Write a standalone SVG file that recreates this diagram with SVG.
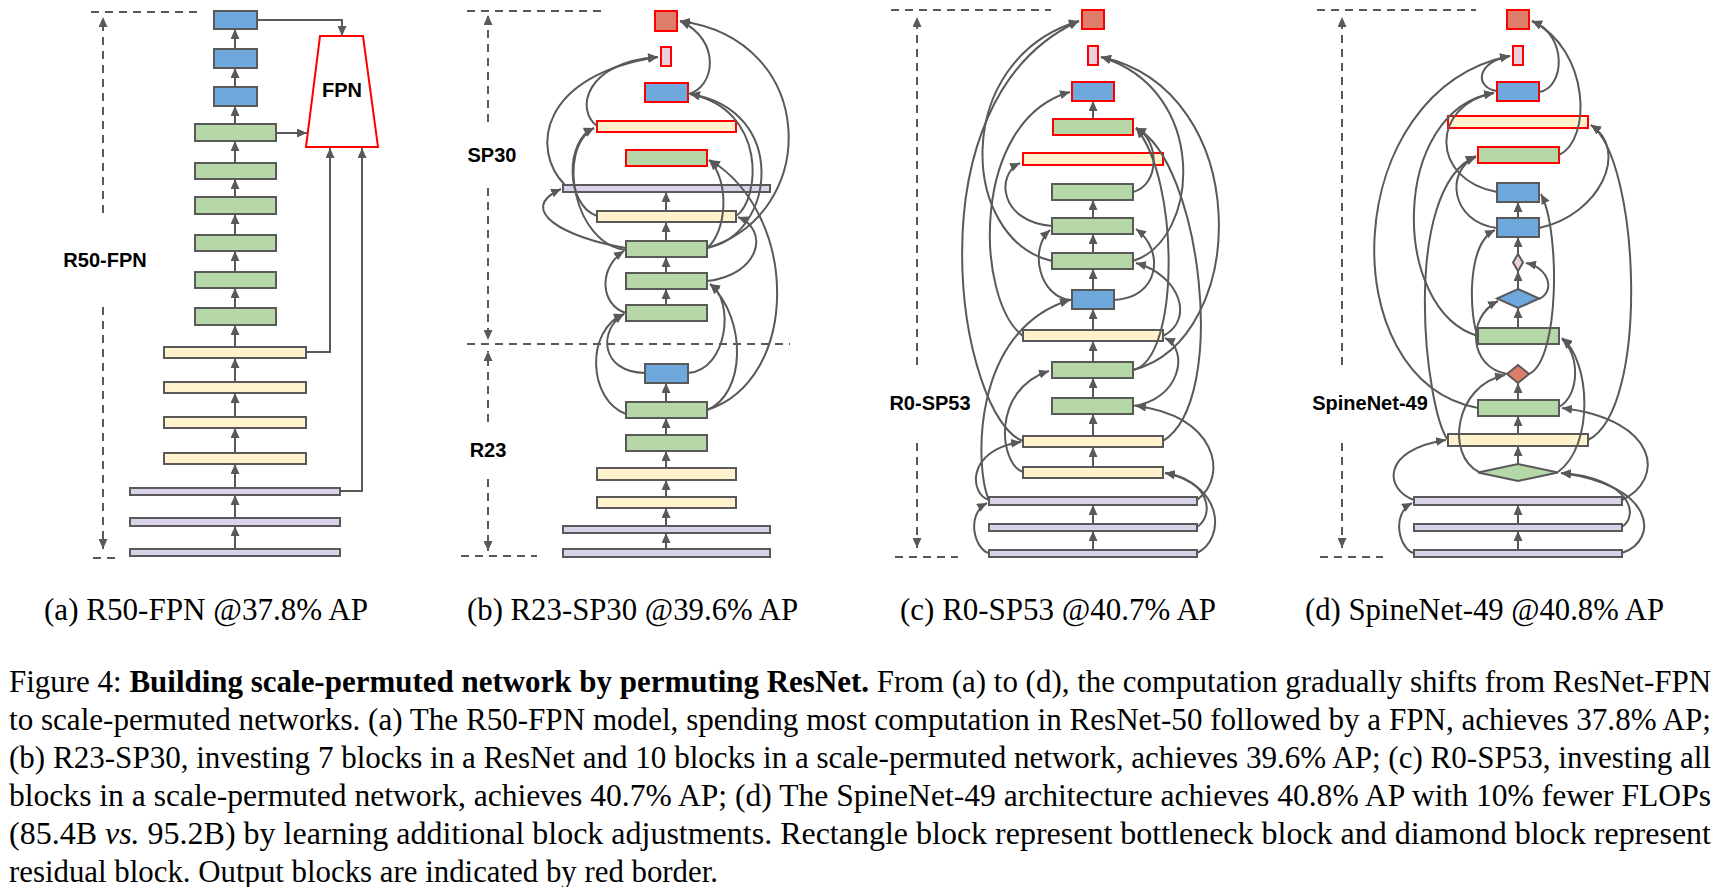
<svg xmlns="http://www.w3.org/2000/svg" width="1722" height="887" viewBox="0 0 1722 887">
<style>
.bl{fill:#6fa8dc;stroke:#595959;stroke-width:2}
.gr{fill:#b6d7a8;stroke:#595959;stroke-width:2}
.ye{fill:#fff2cc;stroke:#595959;stroke-width:2}
.pu{fill:#d9d2e9;stroke:#595959;stroke-width:2}
.pk{fill:#ead1dc;stroke:#595959;stroke-width:2}
.rd{fill:#dd7e6b;stroke:#595959;stroke-width:2}
.out{stroke:#ff0000}
.c{fill:none;stroke:#595959;stroke-width:2;marker-end:url(#ah)}
.d{fill:none;stroke:#595959;stroke-width:2;stroke-dasharray:8 6}
.da{fill:none;stroke:#595959;stroke-width:2;stroke-dasharray:8 6;marker-end:url(#ah)}
.lab{font-family:"Liberation Sans",Arial,sans-serif;font-weight:bold;font-size:20px;fill:#000}
.cap{font-family:"Liberation Serif","Times New Roman",Times,serif;font-size:31px;fill:#000}
.sub{font-family:"Liberation Serif","Times New Roman",Times,serif;font-size:31px;fill:#000}
</style>
<defs>
<marker id="ah" markerUnits="userSpaceOnUse" markerWidth="10" markerHeight="9" refX="10" refY="4.5" orient="auto"><path d="M0,0 L10,4.5 L0,9 z" fill="#595959"/></marker>
</defs>
<rect width="1722" height="887" fill="#fff"/>

<!-- Panel (a) -->
<g id="a-dash">
<path class="d" d="M91,12 H202"/>
<path class="da" d="M103,213 V17"/>
<path class="da" d="M103,307 V549"/>
<path class="d" d="M93,558 H115"/>
<text class="lab" x="105" y="267" text-anchor="middle">R50-FPN</text>
</g>
<g id="a1"><rect class="bl" x="214" y="11" width="43" height="18"/></g>
<g id="a2"><rect class="bl" x="214" y="49" width="43" height="19"/></g>
<g id="a3"><rect class="bl" x="214" y="87" width="43" height="19"/></g>
<g id="a4"><rect class="gr" x="195" y="124" width="81" height="17"/></g>
<g id="a5"><rect class="gr" x="195" y="163" width="81" height="16"/></g>
<g id="a6"><rect class="gr" x="195" y="197" width="81" height="17"/></g>
<g id="a7"><rect class="gr" x="195" y="235" width="81" height="16"/></g>
<g id="a8"><rect class="gr" x="195" y="272" width="81" height="16"/></g>
<g id="a9"><rect class="gr" x="195" y="308" width="81" height="17"/></g>
<g id="a10"><rect class="ye" x="164" y="347" width="142" height="11"/></g>
<g id="a11"><rect class="ye" x="164" y="382" width="142" height="11"/></g>
<g id="a12"><rect class="ye" x="164" y="417" width="142" height="11"/></g>
<g id="a13"><rect class="ye" x="164" y="453" width="142" height="11"/></g>
<g id="a14"><rect class="pu" x="130" y="488" width="210" height="7"/></g>
<g id="a15"><rect class="pu" x="130" y="518" width="210" height="8"/></g>
<g id="a16"><rect class="pu" x="130" y="549" width="210" height="7"/></g>
<g id="a-fpn"><polygon points="320,36 363,36 378,147 306,147" fill="#fff" stroke="#ff0000" stroke-width="2"/>
<text class="lab" x="342" y="97" text-anchor="middle">FPN</text></g>

<!-- Panel (b) -->
<g id="b-dash">
<path class="d" d="M467,11 H605"/>
<path class="da" d="M488,122 V15"/>
<path class="da" d="M488,188 V340"/>
<path class="d" d="M467,344 H790"/>
<path class="da" d="M488,422 V351"/>
<path class="da" d="M488,479 V551"/>
<path class="d" d="M461,556 H537"/>
<text class="lab" x="492" y="162" text-anchor="middle">SP30</text>
<text class="lab" x="488" y="457" text-anchor="middle">R23</text>
</g>
<g id="b1"><rect class="rd out" x="655" y="11" width="22" height="20"/></g>
<g id="b2"><rect class="pk out" x="661" y="47" width="10" height="19"/></g>
<g id="b3"><rect class="bl out" x="645" y="83" width="43" height="19"/></g>
<g id="b4"><rect class="ye out" x="597" y="121" width="139" height="11"/></g>
<g id="b5"><rect class="gr out" x="626" y="150" width="81" height="16"/></g>
<g id="b6"><rect class="pu" x="563" y="185" width="207" height="7"/></g>
<g id="b7"><rect class="ye" x="597" y="211" width="139" height="11"/></g>
<g id="b8"><rect class="gr" x="626" y="241" width="81" height="16"/></g>
<g id="b9"><rect class="gr" x="626" y="273" width="81" height="16"/></g>
<g id="b10"><rect class="gr" x="626" y="305" width="81" height="16"/></g>
<g id="b11"><rect class="bl" x="645" y="364" width="43" height="19"/></g>
<g id="b12"><rect class="gr" x="626" y="402" width="81" height="16"/></g>
<g id="b13"><rect class="gr" x="626" y="435" width="81" height="16"/></g>
<g id="b14"><rect class="ye" x="597" y="468" width="139" height="12"/></g>
<g id="b15"><rect class="ye" x="597" y="497" width="139" height="11"/></g>
<g id="b16"><rect class="pu" x="563" y="526" width="207" height="7"/></g>
<g id="b17"><rect class="pu" x="563" y="549" width="207" height="8"/></g>

<!-- Panel (c) -->
<g id="c-dash">
<path class="d" d="M891,10 H1051"/>
<path class="da" d="M917,365 V17"/>
<path class="da" d="M917,443 V548"/>
<path class="d" d="M895,557 H958"/>
<text class="lab" x="930" y="410" text-anchor="middle">R0-SP53</text>
</g>
<g id="c1"><rect class="rd out" x="1082" y="10" width="22" height="19"/></g>
<g id="c2"><rect class="pk out" x="1088" y="46" width="10" height="19"/></g>
<g id="c3"><rect class="bl out" x="1072" y="82" width="42" height="19"/></g>
<g id="c4"><rect class="gr out" x="1053" y="119" width="80" height="16"/></g>
<g id="c5"><rect class="ye out" x="1023" y="153" width="140" height="12"/></g>
<g id="c6"><rect class="gr" x="1052" y="184" width="81" height="16"/></g>
<g id="c7"><rect class="gr" x="1052" y="218" width="81" height="16"/></g>
<g id="c8"><rect class="gr" x="1052" y="253" width="81" height="16"/></g>
<g id="c9"><rect class="bl" x="1072" y="290" width="42" height="19"/></g>
<g id="c10"><rect class="ye" x="1023" y="330" width="140" height="11"/></g>
<g id="c11"><rect class="gr" x="1052" y="362" width="81" height="16"/></g>
<g id="c12"><rect class="gr" x="1052" y="398" width="81" height="16"/></g>
<g id="c13"><rect class="ye" x="1023" y="436" width="140" height="11"/></g>
<g id="c14"><rect class="ye" x="1023" y="467" width="140" height="11"/></g>
<g id="c15"><rect class="pu" x="989" y="497" width="208" height="8"/></g>
<g id="c16"><rect class="pu" x="989" y="524" width="208" height="7"/></g>
<g id="c17"><rect class="pu" x="989" y="550" width="208" height="7"/></g>

<!-- Panel (d) -->
<g id="d-dash">
<path class="d" d="M1317,10 H1476"/>
<path class="da" d="M1342,365 V17"/>
<path class="da" d="M1342,443 V548"/>
<path class="d" d="M1320,557 H1383"/>
<text class="lab" x="1370" y="410" text-anchor="middle">SpineNet-49</text>
</g>
<g id="d1"><rect class="rd out" x="1507" y="10" width="22" height="19"/></g>
<g id="d2"><rect class="pk out" x="1513" y="46" width="10" height="19"/></g>
<g id="d3"><rect class="bl out" x="1497" y="82" width="42" height="19"/></g>
<g id="d4"><rect class="ye out" x="1448" y="116" width="140" height="12"/></g>
<g id="d5"><rect class="gr out" x="1478" y="147" width="81" height="16"/></g>
<g id="d6"><rect class="bl" x="1497" y="183" width="42" height="19"/></g>
<g id="d7"><rect class="bl" x="1497" y="218" width="42" height="19"/></g>
<g id="d8"><polygon class="pk" points="1518,254 1523,262.5 1518,271 1513,262.5"/></g>
<g id="d9"><polygon class="bl" points="1518,289 1539,298.5 1518,308 1497,298.5"/></g>
<g id="d10"><rect class="gr" x="1478" y="328" width="81" height="16"/></g>
<g id="d11"><polygon class="rd" points="1518,365 1529,374 1518,383 1507,374"/></g>
<g id="d12"><rect class="gr" x="1478" y="400" width="81" height="16"/></g>
<g id="d13"><rect class="ye" x="1448" y="434" width="140" height="12"/></g>
<g id="d14"><polygon class="gr" points="1518,464 1558,472.5 1518,481 1478,472.5"/></g>
<g id="d15"><rect class="pu" x="1414" y="497" width="208" height="8"/></g>
<g id="d16"><rect class="pu" x="1414" y="524" width="208" height="7"/></g>
<g id="d17"><rect class="pu" x="1414" y="550" width="208" height="7"/></g>

<g id="connectors">
<!-- (a) -->
<path class="c" d="M235,49 V29"/>
<path class="c" d="M235,87 V68"/>
<path class="c" d="M235,124 V106"/>
<path class="c" d="M235,163 V141"/>
<path class="c" d="M235,197 V179"/>
<path class="c" d="M235,235 V214"/>
<path class="c" d="M235,272 V251"/>
<path class="c" d="M235,308 V288"/>
<path class="c" d="M235,347 V325"/>
<path class="c" d="M235,382 V358"/>
<path class="c" d="M235,417 V393"/>
<path class="c" d="M235,453 V428"/>
<path class="c" d="M235,488 V464"/>
<path class="c" d="M235,518 V495"/>
<path class="c" d="M235,549 V526"/>
<path class="c" d="M257,20 H342 V36"/>
<path class="c" d="M276,133 H307"/>
<path class="c" d="M306,352 H330 V148"/>
<path class="c" d="M340,491 H362 V148"/>
<!-- (b) straight -->
<path class="c" d="M666,211 V192"/>
<path class="c" d="M666,241 V222"/>
<path class="c" d="M666,273 V257"/>
<path class="c" d="M666,305 V289"/>
<path class="c" d="M666,402 V383"/>
<path class="c" d="M666,435 V418"/>
<path class="c" d="M666,468 V451"/>
<path class="c" d="M666,497 V480"/>
<path class="c" d="M666,526 V508"/>
<path class="c" d="M666,549 V533"/>
<!-- (b) curves -->
<path class="c" d="M688,94 C715,88 722,40 680,21"/>
<path class="c" d="M707,248 C820,215 820,40 680,21"/>
<path class="c" d="M565,185 C530,150 540,75 658,57"/>
<path class="c" d="M597,126 C575,110 585,62 658,57"/>
<path class="c" d="M626,248 C565,238 515,210 561,189"/>
<path class="c" d="M597,216 C565,205 565,140 594,128"/>
<path class="c" d="M626,250 C575,245 555,150 594,128"/>
<path class="c" d="M626,313 C600,305 598,268 624,251"/>
<path class="c" d="M626,414 C588,400 585,330 624,314"/>
<path class="c" d="M645,373 C600,372 598,330 624,314"/>
<path class="c" d="M688,373 C728,370 735,300 710,284"/>
<path class="c" d="M707,410 C745,395 748,320 710,284"/>
<path class="c" d="M707,410 C800,380 800,215 710,160"/>
<path class="c" d="M707,281 C760,275 770,230 738,217"/>
<path class="c" d="M736,216 C760,200 768,110 690,94"/>
<path class="c" d="M707,248 C775,235 790,110 690,94"/>
<path class="c" d="M707,248 C727,232 730,180 709,160"/>
<!-- (c) straight -->
<path class="c" d="M1093,119 V101"/>
<path class="c" d="M1093,218 V200"/>
<path class="c" d="M1093,253 V234"/>
<path class="c" d="M1093,290 V269"/>
<path class="c" d="M1093,330 V309"/>
<path class="c" d="M1093,362 V341"/>
<path class="c" d="M1093,398 V378"/>
<path class="c" d="M1093,436 V414"/>
<path class="c" d="M1093,467 V447"/>
<path class="c" d="M1093,524 V505"/>
<path class="c" d="M1093,550 V531"/>
<!-- (c) curves -->
<path class="c" d="M1023,441 C960,420 905,100 1079,21"/>
<path class="c" d="M1052,261 C960,240 950,60 1079,21"/>
<path class="c" d="M1023,336 C975,300 970,120 1070,92"/>
<path class="c" d="M1052,226 C1000,222 995,175 1020,163"/>
<path class="c" d="M1023,472 C1000,465 990,390 1049,371"/>
<path class="c" d="M989,500 C970,495 965,450 1021,442"/>
<path class="c" d="M989,553 C975,550 965,515 987,503"/>
<path class="c" d="M1071,300 C1040,298 1028,250 1050,230"/>
<path class="c" d="M989,500 C975,470 970,330 1070,300"/>
<path class="c" d="M1133,261 C1200,240 1210,90 1101,57"/>
<path class="c" d="M1133,370 C1250,340 1255,90 1101,57"/>
<path class="c" d="M1133,192 C1160,185 1160,140 1136,128"/>
<path class="c" d="M1163,441 C1230,400 1200,160 1136,128"/>
<path class="c" d="M1133,370 C1180,360 1180,180 1136,128"/>
<path class="c" d="M1114,300 C1160,298 1165,250 1136,229"/>
<path class="c" d="M1163,336 C1195,320 1180,275 1136,263"/>
<path class="c" d="M1133,406 C1180,400 1190,350 1165,338"/>
<path class="c" d="M1197,500 C1230,475 1215,415 1136,406"/>
<path class="c" d="M1197,527 C1215,515 1210,480 1165,473"/>
<path class="c" d="M1197,553 C1225,540 1225,485 1165,473"/>
<!-- (d) straight -->
<path class="c" d="M1518,218 V202"/>
<path class="c" d="M1518,254 V237"/>
<path class="c" d="M1518,289 V271"/>
<path class="c" d="M1518,328 V308"/>
<path class="c" d="M1518,400 V383"/>
<path class="c" d="M1518,434 V416"/>
<path class="c" d="M1518,464 V446"/>
<path class="c" d="M1518,524 V505"/>
<path class="c" d="M1518,550 V531"/>
<!-- (d) curves -->
<path class="c" d="M1539,92 C1565,88 1568,35 1532,21"/>
<path class="c" d="M1559,155 C1592,140 1590,50 1532,21"/>
<path class="c" d="M1478,408 C1330,380 1340,90 1510,56"/>
<path class="c" d="M1497,91 C1475,88 1475,62 1510,56"/>
<path class="c" d="M1478,336 C1390,310 1390,110 1494,93"/>
<path class="c" d="M1497,192 C1430,180 1430,105 1494,93"/>
<path class="c" d="M1448,440 C1425,410 1400,190 1476,156"/>
<path class="c" d="M1497,228 C1450,222 1445,170 1476,157"/>
<path class="c" d="M1539,228 C1600,215 1630,150 1591,125"/>
<path class="c" d="M1588,440 C1650,410 1640,160 1591,125"/>
<path class="c" d="M1529,374 C1560,360 1560,230 1541,194"/>
<path class="c" d="M1539,299 C1555,292 1550,268 1526,263"/>
<path class="c" d="M1507,374 C1470,368 1465,318 1498,301"/>
<path class="c" d="M1479,472 C1445,455 1455,385 1505,375"/>
<path class="c" d="M1558,472 C1595,445 1590,360 1562,338"/>
<path class="c" d="M1559,407 C1580,395 1580,355 1562,339"/>
<path class="c" d="M1622,500 C1665,480 1660,420 1562,408"/>
<path class="c" d="M1414,500 C1385,490 1380,450 1446,440"/>
<path class="c" d="M1414,553 C1400,550 1390,515 1412,503"/>
<path class="c" d="M1622,527 C1640,515 1630,478 1561,473"/>
<path class="c" d="M1622,553 C1660,540 1655,485 1561,473"/>
<path class="c" d="M1478,336 C1470,320 1465,245 1495,230"/>
</g>

<g id="captions">
<text class="sub" x="44" y="620" textLength="324" lengthAdjust="spacingAndGlyphs">(a) R50-FPN @37.8% AP</text>
<text class="sub" x="467" y="620" textLength="331" lengthAdjust="spacingAndGlyphs">(b) R23-SP30 @39.6% AP</text>
<text class="sub" x="900" y="620" textLength="316" lengthAdjust="spacingAndGlyphs">(c) R0-SP53 @40.7% AP</text>
<text class="sub" x="1305" y="620" textLength="359" lengthAdjust="spacingAndGlyphs">(d) SpineNet-49 @40.8% AP</text>
<text class="cap" x="9" y="692" textLength="1702" lengthAdjust="spacingAndGlyphs">Figure 4: <tspan font-weight="bold">Building scale-permuted network by permuting ResNet.</tspan> From (a) to (d), the computation gradually shifts from ResNet-FPN</text>
<text class="cap" x="9" y="730" textLength="1702" lengthAdjust="spacingAndGlyphs">to scale-permuted networks. (a) The R50-FPN model, spending most computation in ResNet-50 followed by a FPN, achieves 37.8% AP;</text>
<text class="cap" x="9" y="768" textLength="1702" lengthAdjust="spacingAndGlyphs">(b) R23-SP30, investing 7 blocks in a ResNet and 10 blocks in a scale-permuted network, achieves 39.6% AP; (c) R0-SP53, investing all</text>
<text class="cap" x="9" y="806" textLength="1702" lengthAdjust="spacingAndGlyphs">blocks in a scale-permuted network, achieves 40.7% AP; (d) The SpineNet-49 architecture achieves 40.8% AP with 10% fewer FLOPs</text>
<text class="cap" x="9" y="844" textLength="1702" lengthAdjust="spacingAndGlyphs">(85.4B <tspan font-style="italic">vs.</tspan> 95.2B) by learning additional block adjustments.  Rectangle block represent bottleneck block and diamond block represent</text>
<text class="cap" x="9" y="882" textLength="709" lengthAdjust="spacingAndGlyphs">residual block. Output blocks are indicated by red border.</text>
</g>
</svg>
